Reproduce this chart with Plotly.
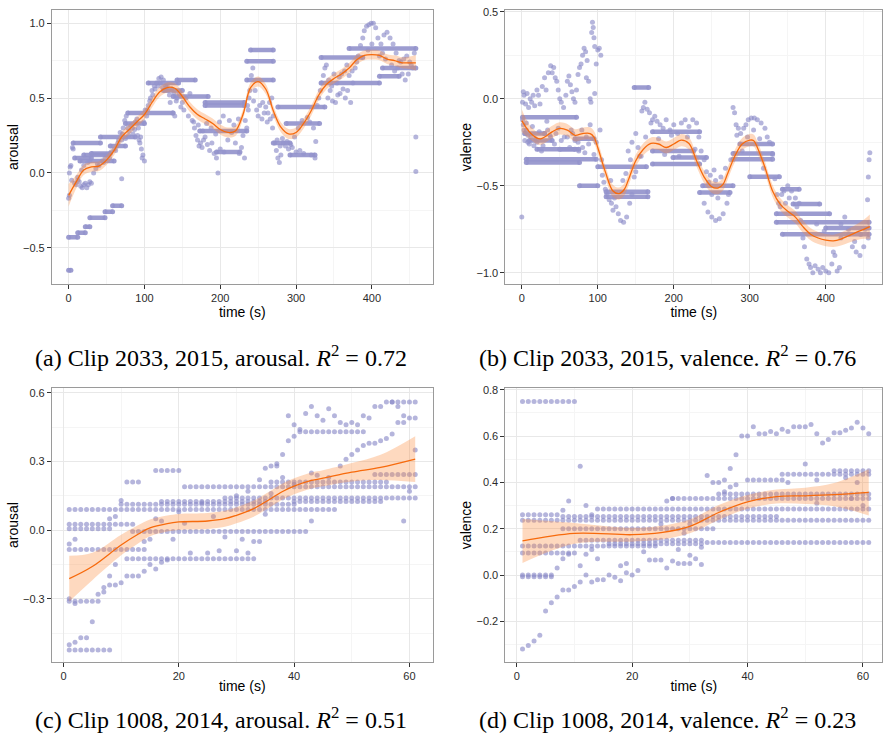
import plotly.graph_objects as go

# ---------------- Panel (a): Clip 2033, 2015, arousal ----------------
a_band_t0 = [6, 42, 8, 30, 55, 75, 78, 105, 143, 125, 138, 180, 180, 173, 195, 240, 235, 235, 276, 287, 270, 292, 333, 333, 370, 414, 410, 0, 12, 22, 28, 48, 58, 0, 15, 20]
a_band_t1 = [42, 88, 30, 55, 75, 100, 138, 145, 167, 150, 184, 232, 232, 235, 226, 270, 270, 270, 338, 331, 292, 325, 388, 410, 458, 458, 436, 12, 22, 28, 48, 58, 70, 3, 60, 50]
a_band_v = [0.20, 0.24, 0.10, 0.13, 0.18, 0.33, 0.40, 0.60, 0.62, 0.55, 0.51, 0.47, 0.45, 0.28, 0.14, 0.82, 0.745, 0.62, 0.44, 0.33, 0.20, 0.12, 0.77, 0.60, 0.83, 0.70, 0.645, -0.43, -0.40, -0.36, -0.30, -0.26, -0.22, -0.65, 0.08, 0.12]

a_pt_t = [0, 1, 1, 2, 3, 4, 5, 6, 8, 10, 12, 14, 16, 18, 20, 22, 24, 26, 28, 30, 12, 17, 20, 25, 28, 33, 36, 40, 44, 48, 52, 56, 60, 64, 70,
          65, 70, 72, 74, 76, 78, 80, 82, 85, 88, 90, 92, 94, 96, 98, 100, 97, 95, 99, 103, 105, 108, 110, 113, 116, 119, 122, 125, 128, 131, 134, 137, 140, 143, 146, 150, 155, 160,
          165, 168, 170, 172, 174, 176, 178, 180, 183, 186, 189, 192, 195, 197, 200, 205, 210, 215, 220, 225, 228, 232, 235, 237, 239, 241, 243, 246, 250, 255, 258, 262, 265, 268, 270, 272, 274, 276, 278, 280, 283, 286, 290, 295, 300, 305, 310, 320, 325, 326,
          328, 330, 332, 334, 336, 338, 340, 342, 345, 348, 352, 355, 358, 362, 365, 368, 372, 375, 378, 382, 385, 388, 390, 393, 396, 399, 402, 405, 408, 412, 416, 420, 424, 428, 432, 436, 440, 444, 448, 452, 456, 458, 458,
          104, 107, 111, 114, 118, 121, 124, 127, 130, 133, 136, 139, 142, 148, 152, 158, 163, 166, 171, 177, 182, 188, 194, 199, 204, 212, 218, 224, 230, 233, 236, 238, 244, 248, 252, 256, 260, 263, 266, 269, 275, 279, 282, 288, 293, 298, 303, 308, 315, 318, 323,
          38, 46, 54, 62, 66, 68, 71, 75, 79, 84, 87, 91, 93, 101, 343, 347, 350, 354, 357, 360, 364, 367, 370, 374, 380, 395, 400, 410, 414, 418, 426, 430, 434, 438, 442, 446, 450, 454]
a_pt_v = [-0.17, -0.15, 0.0, 0.04, 0.05, -0.05, 0.17, 0.16, -0.07, -0.08, -0.05, -0.06, -0.09, -0.10, -0.08, -0.07, -0.10, -0.08, -0.06, -0.07, -0.03, 0.02, 0.05, 0.07, 0.08, 0.0, 0.03, 0.05, 0.08, 0.10, 0.12, 0.14, 0.16, 0.18, -0.04,
          0.20, 0.22, 0.30, 0.35, 0.38, 0.30, 0.28, 0.32, 0.26, 0.34, 0.36, 0.30, 0.20, 0.16, 0.12, 0.08, 0.10, 0.24, 0.34, 0.38, 0.45, 0.50, 0.55, 0.58, 0.60, 0.63, 0.64, 0.62, 0.58, 0.55, 0.47, 0.40, 0.38, 0.50, 0.53, 0.47, 0.50, 0.53,
          0.34, 0.25, 0.22, 0.18, 0.20, 0.17, 0.22, 0.24, 0.19, 0.15, 0.20, 0.13, 0.10, 0.0, 0.16, 0.14, 0.22, 0.27, 0.20, 0.13, 0.17, 0.10, 0.30, 0.42, 0.55, 0.65, 0.70, 0.55, 0.38, 0.36, 0.40, 0.34, 0.47, 0.50, 0.38, 0.20, 0.15, 0.10, 0.07, 0.12, 0.20, 0.18, 0.16, 0.17, 0.14, 0.15, 0.13, 0.12, 0.10, 0.21,
          0.45, 0.50, 0.55, 0.60, 0.65, 0.70, 0.72, 0.50, 0.55, 0.48, 0.47, 0.52, 0.53, 0.56, 0.50, 0.55, 0.47, 0.60, 0.70, 0.78, 0.85, 0.90, 0.95, 0.98, 0.99, 1.00, 1.00, 0.97, 0.90, 0.86, 0.92, 0.94, 0.90, 0.86, 0.80, 0.75, 0.66, 0.62, 0.66, 0.72, 0.80, 0.24, 0.01,
          0.42, 0.48, 0.52, 0.56, 0.58, 0.60, 0.57, 0.55, 0.58, 0.52, 0.56, 0.53, 0.48, 0.44, 0.42, 0.38, 0.35, 0.30, 0.32, 0.28, 0.33, 0.30, 0.26, 0.34, 0.38, 0.35, 0.32, 0.36, 0.25, 0.35, 0.45, 0.50, 0.48, 0.42, 0.45, 0.47, 0.44, 0.40, 0.36, 0.30, 0.22, 0.18, 0.23, 0.21, 0.19, 0.24, 0.30, 0.35, 0.37, 0.34, 0.30,
          0.06, 0.07, 0.10, 0.15, 0.22, 0.27, 0.26, 0.23, 0.25, 0.30, 0.29, 0.25, 0.22, 0.42, 0.62, 0.58, 0.66, 0.60, 0.64, 0.66, 0.68, 0.72, 0.65, 0.68, 0.74, 0.82, 0.86, 0.78, 0.80, 0.76, 0.72, 0.68, 0.70, 0.74, 0.76, 0.78, 0.74, 0.70]

a_fit_t = [0, 10, 20, 30, 40, 50, 60, 70, 80, 90, 100, 110, 120, 130, 140, 150, 160, 170, 180, 190, 200, 210, 220, 230, 240, 250, 260, 270, 280, 290, 300, 310, 320, 330, 340, 350, 360, 370, 380, 390, 400, 410, 420, 430, 440, 450, 458]
a_fit_y = [-0.15, -0.06, 0.02, 0.04, 0.045, 0.085, 0.15, 0.24, 0.29, 0.34, 0.39, 0.47, 0.54, 0.57, 0.565, 0.51, 0.44, 0.39, 0.36, 0.33, 0.29, 0.27, 0.28, 0.39, 0.57, 0.61, 0.56, 0.415, 0.305, 0.26, 0.27, 0.33, 0.415, 0.52, 0.59, 0.63, 0.66, 0.70, 0.755, 0.785, 0.79, 0.785, 0.76, 0.75, 0.735, 0.735, 0.735]
a_fit_se = [0.075, 0.045, 0.035, 0.033, 0.033, 0.033, 0.033, 0.033, 0.033, 0.033, 0.033, 0.033, 0.033, 0.033, 0.033, 0.033, 0.033, 0.033, 0.033, 0.033, 0.033, 0.033, 0.033, 0.033, 0.033, 0.033, 0.033, 0.033, 0.033, 0.033, 0.033, 0.033, 0.033, 0.033, 0.033, 0.033, 0.033, 0.033, 0.033, 0.033, 0.033, 0.033, 0.033, 0.035, 0.037, 0.042, 0.052]

# ---------------- Panel (b): Clip 2033, 2015, valence ----------------
b_band_t0 = [1, 20, 6, 6, 76, 100, 111, 111, 148, 172, 172, 199, 172, 238, 234, 278, 278, 287, 300, 343, 357, 335, 335, 343, 400, 70, 10, 4, 50]
b_band_t1 = [72, 70, 98, 76, 100, 164, 166, 166, 167, 234, 234, 243, 226, 278, 274, 330, 330, 330, 339, 365, 392, 405, 457, 457, 457, 95, 40, 30, 75]
b_band_v = [-0.107, -0.29, -0.347, -0.366, -0.50, -0.39, -0.534, -0.563, 0.065, -0.19, -0.375, -0.337, -0.30, -0.50, -0.538, -0.314, -0.347, -0.26, -0.448, -0.52, -0.605, -0.66, -0.71, -0.778, -0.743, -0.23, -0.24, -0.20, -0.29]

b_pt_t = [0, 1, 2, 3, 5, 7, 9, 11, 13, 15, 17, 20, 22, 24, 27, 30, 32, 35, 38, 40, 42, 44, 46, 48, 50, 52, 55, 58, 60, 62, 64, 66, 68, 70, 72, 74, 76, 78, 80, 82, 84, 86, 88, 90, 92, 93, 94, 95, 96, 98, 100, 102, 104, 96, 91, 85,
          2, 4, 6, 8, 12, 16, 20, 26, 30, 34, 38, 45, 52, 60, 65, 70, 75, 80, 85, 90, 95, 98, 103, 105, 108, 112, 115, 118, 120, 124, 127, 130, 134, 138, 142, 145, 148, 150, 145, 150, 140, 143, 155,
          158, 160, 162, 165, 168, 170, 172, 175, 178, 182, 186, 190, 195, 200, 205, 210, 215, 220, 225, 230, 233, 236, 240, 243, 246, 250, 240, 245, 250, 255, 260, 265, 270, 272, 268, 262, 255, 275,
          278, 280, 282, 285, 288, 292, 295, 298, 302, 306, 310, 315, 320, 323, 326, 330, 333, 336, 338, 340, 342, 345, 350, 355, 360, 365, 370, 372, 375, 378, 380, 383, 386, 390, 393, 396, 400, 404, 408, 412, 415, 418, 410, 420, 425, 430, 435, 440, 445, 450, 452, 455, 456, 457, 458, 456,
          1, 3, 4, 6, 8, 10, 14, 18, 23, 28, 33, 37, 43, 48, 56, 63, 67, 74, 79, 83, 88, 106, 110, 117, 122, 133, 137, 153, 157, 163, 180, 188, 197, 207, 218, 228, 248, 253, 258, 283, 290, 297, 305, 313, 318, 347, 352, 362, 367, 388, 398, 420, 430, 438, 446]
b_pt_v = [-0.68, -0.02, 0.04, 0.02, -0.03, 0.03, -0.05, 0.0, -0.02, 0.02, -0.04, 0.05, 0.02, -0.03, 0.07, 0.12, 0.05, 0.15, 0.19, 0.15, 0.18, 0.12, 0.10, 0.05, 0.0, -0.02, -0.05, 0.02, 0.10, 0.13, 0.08, 0.04, 0.0, -0.02, 0.05, 0.14, 0.18, 0.20, 0.25, 0.29, 0.27, 0.22, 0.10, 0.0, 0.38, 0.44, 0.41, 0.35, 0.30, 0.20, 0.28, 0.29, 0.25, 0.03, -0.02, 0.12,
          -0.15, -0.20, -0.18, -0.25, -0.22, -0.27, -0.25, -0.30, -0.20, -0.18, -0.22, -0.20, -0.24, -0.22, -0.18, -0.24, -0.30, -0.28, -0.22, -0.15, -0.32, -0.25, -0.18, -0.35, -0.48, -0.55, -0.58, -0.60, -0.64, -0.62, -0.66, -0.70, -0.71, -0.68, -0.60, -0.55, -0.45, -0.42, -0.25, -0.20, -0.30, -0.35, -0.33,
          -0.07, -0.05, -0.02, -0.06, -0.08, -0.14, -0.12, -0.10, -0.13, -0.15, -0.17, -0.12, -0.18, -0.15, -0.20, -0.14, -0.12, -0.16, -0.12, -0.14, -0.22, -0.30, -0.35, -0.42, -0.48, -0.55, -0.60, -0.65, -0.68, -0.70, -0.69, -0.66, -0.60, -0.55, -0.40, -0.45, -0.47, -0.35,
          -0.05, -0.08, -0.15, -0.17, -0.20, -0.17, -0.15, -0.12, -0.11, -0.11, -0.12, -0.14, -0.17, -0.22, -0.25, -0.32, -0.46, -0.55, -0.60, -0.62, -0.55, -0.53, -0.50, -0.53, -0.57, -0.60, -0.80, -0.85, -0.92, -0.95, -0.97, -1.00, -0.96, -0.98, -1.00, -0.97, -0.99, -1.00, -0.95, -0.90, -0.99, -0.97, -0.88, -0.72, -0.68, -0.78, -0.85, -0.88, -0.90, -0.85, -0.75, -0.58, -0.45, -0.35, -0.31, -0.80,
          -0.12, -0.18, -0.24, -0.14, -0.21, -0.26, -0.16, -0.23, -0.19, -0.27, -0.13, -0.21, -0.26, -0.17, -0.22, -0.28, -0.20, -0.25, -0.18, -0.31, -0.26, -0.44, -0.52, -0.47, -0.57, -0.47, -0.43, -0.28, -0.33, -0.22, -0.23, -0.32, -0.21, -0.33, -0.22, -0.29, -0.44, -0.41, -0.57, -0.21, -0.30, -0.22, -0.18, -0.23, -0.40, -0.60, -0.57, -0.62, -0.70, -0.72, -0.76, -0.80, -0.75, -0.82, -0.78]

b_fit_t = [0, 10, 20, 25, 30, 40, 50, 60, 70, 80, 90, 95, 100, 110, 120, 128, 135, 140, 150, 160, 170, 180, 190, 200, 210, 220, 230, 240, 250, 258, 265, 270, 280, 290, 300, 305, 310, 320, 330, 340, 350, 360, 370, 380, 390, 400, 410, 420, 430, 440, 450, 458]
b_fit_y = [-0.126, -0.19, -0.226, -0.23, -0.22, -0.19, -0.17, -0.18, -0.21, -0.20, -0.20, -0.22, -0.28, -0.42, -0.53, -0.545, -0.52, -0.47, -0.356, -0.29, -0.257, -0.26, -0.28, -0.26, -0.238, -0.257, -0.356, -0.45, -0.506, -0.513, -0.49, -0.44, -0.333, -0.26, -0.238, -0.24, -0.28, -0.395, -0.53, -0.605, -0.647, -0.68, -0.735, -0.778, -0.80, -0.812, -0.816, -0.806, -0.787, -0.768, -0.75, -0.735]
b_fit_se = [0.065, 0.04, 0.035, 0.035, 0.035, 0.035, 0.035, 0.035, 0.035, 0.035, 0.035, 0.035, 0.035, 0.035, 0.035, 0.035, 0.035, 0.035, 0.035, 0.035, 0.035, 0.035, 0.035, 0.035, 0.035, 0.035, 0.035, 0.035, 0.035, 0.035, 0.035, 0.035, 0.035, 0.035, 0.035, 0.035, 0.035, 0.035, 0.035, 0.035, 0.035, 0.035, 0.035, 0.035, 0.035, 0.035, 0.035, 0.037, 0.04, 0.045, 0.055, 0.07]

# ---------------- Panel (c): Clip 1008, 2014, arousal ----------------
c_row_t0 = [1, 10, 17, 40, 28, 21, 36, 1, 1, 12, 1, 11, 1, 1, 16, 11, 41, 54, 56]
c_row_t1 = [47, 40, 35, 55, 61, 61, 56, 12, 8, 42, 14, 33, 6, 8, 20, 13, 52, 61, 61]
c_row_v = [0.09, 0.113, 0.125, 0.125, 0.14, 0.19, 0.21, 0.026, 0.006, -0.006, -0.085, -0.125, -0.31, -0.523, 0.26, 0.21, 0.43, 0.243, 0.56]

c_pt_t = [1, 2, 1, 2, 1, 2, 3, 4, 5, 6, 7, 7, 8, 8, 9, 9, 10, 11, 12, 13, 14, 15, 16, 17, 18, 14, 15, 16, 17, 8, 9, 10, 19, 22, 25, 27, 30, 32, 31, 33, 34, 28,
          34, 35, 36, 37, 37, 38, 39, 40, 40, 39, 41, 42, 43, 44, 45, 46, 47, 48, 49, 50, 51, 52, 53, 54, 55, 57, 58, 59, 60, 61,
          48, 49, 50, 51, 52, 53, 54, 55, 56, 57, 58, 59, 61, 59, 60, 43, 35, 36, 30, 32, 26, 24, 21, 20, 44, 46, 43, 38, 40]
c_pt_v = [-0.06, -0.04, -0.30, -0.32, -0.50, -0.49, -0.47, -0.47, -0.40, -0.28, -0.25, -0.27, -0.20, -0.24, -0.15, -0.24, -0.23, -0.20, -0.20, -0.20, -0.18, -0.15, -0.17, -0.14, -0.13, -0.05, -0.04, 0.05, 0.04, 0.05, 0.06, 0.13, -0.04, -0.10, -0.10, -0.09, -0.09, -0.10, -0.04, -0.05, -0.05, -0.03,
          0.22, 0.27, 0.28, 0.28, 0.29, 0.33, 0.39, 0.41, 0.46, 0.50, 0.44, 0.51, 0.54, 0.50, 0.48, 0.53, 0.50, 0.47, 0.46, 0.47, 0.46, 0.50, 0.49, 0.54, 0.54, 0.56, 0.54, 0.50, 0.49, 0.49,
          0.28, 0.31, 0.33, 0.35, 0.37, 0.38, 0.38, 0.39, 0.40, 0.42, 0.47, 0.47, 0.35, 0.04, 0.17, 0.04, 0.07, 0.16, 0.15, 0.17, 0.06, 0.12, 0.03, 0.08, 0.24, 0.23, 0.25, 0.23, 0.20]

c_fit_t = [1, 5, 10, 13, 15, 18, 20, 25, 28, 30, 33, 35, 38, 40, 43, 45, 50, 55, 61]
c_fit_y = [-0.212, -0.159, -0.065, -0.017, 0.01, 0.029, 0.036, 0.04, 0.05, 0.065, 0.094, 0.123, 0.169, 0.192, 0.217, 0.227, 0.253, 0.274, 0.31]
c_fit_se = [0.10, 0.06, 0.045, 0.04, 0.037, 0.035, 0.035, 0.035, 0.035, 0.035, 0.035, 0.035, 0.035, 0.035, 0.035, 0.035, 0.04, 0.055, 0.10]

# ---------------- Panel (d): Clip 1008, 2014, valence ----------------
d_row_t0 = [1, 1, 1, 8, 14, 8, 11, 16, 33, 1, 1, 1, 1, 27, 35, 46, 40, 55]
d_row_t1 = [10, 7, 61, 45, 61, 33, 32, 32, 61, 24, 10, 6, 6, 61, 61, 61, 46, 61]
d_row_v = [0.75, 0.26, 0.237, 0.253, 0.285, 0.20, 0.15, 0.135, 0.14, 0.125, 0.095, 0.0, -0.008, 0.33, 0.35, 0.435, 0.41, 0.45]

d_pt_t = [1, 2, 3, 4, 5, 6, 7, 8, 9, 10, 11, 12, 13, 14, 15, 16, 17, 18, 19, 20, 21, 18, 19, 11, 12, 13, 14, 7, 8, 9, 9, 11, 12, 13, 8,
          26, 27, 28, 29, 30, 31, 32, 23, 24, 25, 22, 28, 30, 32,
          33, 34, 35, 36, 37, 38, 39, 40, 41, 42, 43, 44, 45, 46, 47, 48, 49, 50, 51, 52, 53, 54, 55, 56, 57, 58, 59, 60, 61,
          50, 52, 47, 57, 59, 52, 58, 60, 37, 38, 36, 26, 27, 25, 29, 30, 34]
d_pt_v = [-0.32, -0.305, -0.285, -0.26, -0.155, -0.12, -0.095, -0.065, -0.065, -0.05, -0.03, 0.0, -0.03, -0.02, -0.02, 0.0, -0.01, -0.025, 0.01, 0.0, 0.02, 0.04, 0.05, 0.04, 0.09, 0.11, 0.07, 0.03, 0.07, 0.09, 0.32, 0.47, 0.30, 0.26, 0.28,
          0.03, 0.06, 0.05, 0.05, 0.05, 0.07, 0.045, 0.065, 0.065, 0.065, 0.10, 0.11, 0.085, 0.12,
          0.43, 0.40, 0.40, 0.41, 0.46, 0.52, 0.60, 0.60, 0.64, 0.61, 0.61, 0.62, 0.61, 0.63, 0.62, 0.64, 0.64, 0.64, 0.65, 0.61, 0.57, 0.585, 0.615, 0.615, 0.625, 0.635, 0.66, 0.635, 0.61,
          0.48, 0.41, 0.40, 0.42, 0.40, 0.31, 0.33, 0.30, 0.38, 0.39, 0.36, 0.32, 0.33, 0.22, 0.18, 0.22, 0.20]

d_fit_t = [1, 10, 20, 25, 30, 35, 40, 45, 50, 55, 61]
d_fit_y = [0.147, 0.18, 0.174, 0.183, 0.21, 0.27, 0.316, 0.339, 0.342, 0.347, 0.357]
d_fit_se = [0.095, 0.045, 0.03, 0.03, 0.03, 0.032, 0.03, 0.03, 0.035, 0.05, 0.1]

captions = ["(a) Clip 2033, 2015, arousal. <i>R</i><sup>2</sup> = 0.72",
            "(b) Clip 2033, 2015, valence. <i>R</i><sup>2</sup> = 0.76",
            "(c) Clip 1008, 2014, arousal. <i>R</i><sup>2</sup> = 0.51",
            "(d) Clip 1008, 2014, valence. <i>R</i><sup>2</sup> = 0.23"]

# ---------------- styling ----------------
PT_COLOR = "rgba(135,135,198,0.62)"
BAND_COLOR = "rgba(148,148,204,0.92)"
RIB_COLOR = "rgba(253,141,60,0.33)"
LINE_COLOR = "#F76A0C"

fig = go.Figure()


def add_panel(idx, seg=None, rows=None, pts=None, fit=None):
    xa = "x" if idx == 1 else f"x{idx}"
    ya = "y" if idx == 1 else f"y{idx}"
    if pts is not None:
        fig.add_trace(go.Scatter(x=pts[0], y=pts[1], mode="markers", xaxis=xa, yaxis=ya,
                                 marker=dict(color=PT_COLOR, size=5, line=dict(width=0))))
    if seg is not None:
        t0s, t1s, vs = seg
        xs, ys = [], []
        for a, b, v in zip(t0s, t1s, vs):
            xs += [a, b, None]
            ys += [v, v, None]
        fig.add_trace(go.Scatter(x=xs, y=ys, mode="lines+markers", xaxis=xa, yaxis=ya,
                                 line=dict(color=BAND_COLOR, width=4.5),
                                 marker=dict(color=BAND_COLOR, size=5, line=dict(width=0)),
                                 hoverinfo="skip"))
    if rows is not None:
        t0s, t1s, vs = rows
        xs, ys = [], []
        for a, b, v in zip(t0s, t1s, vs):
            for t in range(a, b + 1):
                xs.append(t)
                ys.append(v)
        fig.add_trace(go.Scatter(x=xs, y=ys, mode="markers", xaxis=xa, yaxis=ya,
                                 marker=dict(color=PT_COLOR, size=5, line=dict(width=0))))
    ft, fy, fse = fit
    lo = [y - s for y, s in zip(fy, fse)]
    hi = [y + s for y, s in zip(fy, fse)]
    fig.add_trace(go.Scatter(x=ft, y=lo, mode="lines", xaxis=xa, yaxis=ya,
                             line=dict(width=0, shape="spline", smoothing=1.0), hoverinfo="skip"))
    fig.add_trace(go.Scatter(x=ft, y=hi, mode="lines", xaxis=xa, yaxis=ya, fill="tonexty",
                             fillcolor=RIB_COLOR,
                             line=dict(width=0, shape="spline", smoothing=1.0), hoverinfo="skip"))
    fig.add_trace(go.Scatter(x=ft, y=fy, mode="lines", xaxis=xa, yaxis=ya,
                             line=dict(color=LINE_COLOR, width=1.3, shape="spline", smoothing=1.0)))


add_panel(1, seg=(a_band_t0, a_band_t1, a_band_v), pts=(a_pt_t, a_pt_v), fit=(a_fit_t, a_fit_y, a_fit_se))
add_panel(2, seg=(b_band_t0, b_band_t1, b_band_v), pts=(b_pt_t, b_pt_v), fit=(b_fit_t, b_fit_y, b_fit_se))
add_panel(3, rows=(c_row_t0, c_row_t1, c_row_v), pts=(c_pt_t, c_pt_v), fit=(c_fit_t, c_fit_y, c_fit_se))
add_panel(4, rows=(d_row_t0, d_row_t1, d_row_v), pts=(d_pt_t, d_pt_v), fit=(d_fit_t, d_fit_y, d_fit_se))

W, H = 883, 749
GRID = "#E8E8E8"
MINOR = "#F5F5F5"
BORDER = "#9A9A9A"
TICKCOL = "#333333"
TICKFONT = dict(family="Liberation Sans, Arial, sans-serif", size=11, color="#2b2b2b")
TITLEFONT = dict(family="Liberation Sans, Arial, sans-serif", size=14, color="#000")


def xax(dom, rng, dtick, anchor):
    return dict(domain=dom, range=rng, dtick=dtick, tick0=0, anchor=anchor,
                showgrid=True, gridcolor=GRID, gridwidth=1.2, zeroline=False,
                showline=True, linecolor=BORDER, linewidth=1, mirror=True,
                ticks="outside", ticklen=4, tickcolor=TICKCOL, tickfont=TICKFONT,
                minor=dict(dtick=dtick / 2, showgrid=True, gridcolor=MINOR, gridwidth=1, ticks=""),
                title=dict(text="time (s)", font=TITLEFONT, standoff=0))


def yax(dom, rng, dtick, anchor, title, fmt):
    return dict(domain=dom, range=rng, dtick=dtick, tick0=0, anchor=anchor,
                showgrid=True, gridcolor=GRID, gridwidth=1.2, zeroline=False,
                showline=True, linecolor=BORDER, linewidth=1, mirror=True,
                ticks="outside", ticklen=4, tickcolor=TICKCOL, tickfont=TICKFONT, tickformat=fmt,
                minor=dict(dtick=dtick / 2, showgrid=True, gridcolor=MINOR, gridwidth=1, ticks=""),
                title=dict(text=title, font=TITLEFONT, standoff=1))


top_dom = [1 - 281 / H, 1 - 5 / H]
bot_dom = [1 - 661 / H, 1 - 386 / H]
left_dom = [52 / W, 433 / W]
right_dom = [506 / W, 1.0]

fig.update_layout(
    width=W, height=H, margin=dict(l=0, r=0, t=0, b=0),
    paper_bgcolor="white", plot_bgcolor="white", showlegend=False,
    xaxis=xax(left_dom, [-22, 480], 100, "y"),
    yaxis=yax(top_dom, [-0.743, 1.088], 0.5, "x", "arousal", ".1f"),
    xaxis2=xax(right_dom, [-21.5, 474], 100, "y2"),
    yaxis2=yax(top_dom, [-1.065, 0.51], 0.5, "x2", "valence", ".1f"),
    xaxis3=xax(left_dom, [-2, 64], 20, "y3"),
    yaxis3=yax(bot_dom, [-0.574, 0.619], 0.3, "x3", "arousal", ".1f"),
    xaxis4=xax(right_dom, [-1.96, 63.3], 20, "y4"),
    yaxis4=yax(bot_dom, [-0.374, 0.806], 0.2, "x4", "valence", ".1f"),
)

cap_pos = [(221, 353), (668, 353), (221, 718), (668, 718)]
for txt, (cx, cy) in zip(captions, cap_pos):
    fig.add_annotation(text=txt, x=cx / W, y=1 - cy / H, xref="paper", yref="paper",
                       showarrow=False, xanchor="center", yanchor="middle",
                       font=dict(family="Liberation Serif, Times New Roman, serif", size=24, color="#000"))

fig.write_html("out.html")
